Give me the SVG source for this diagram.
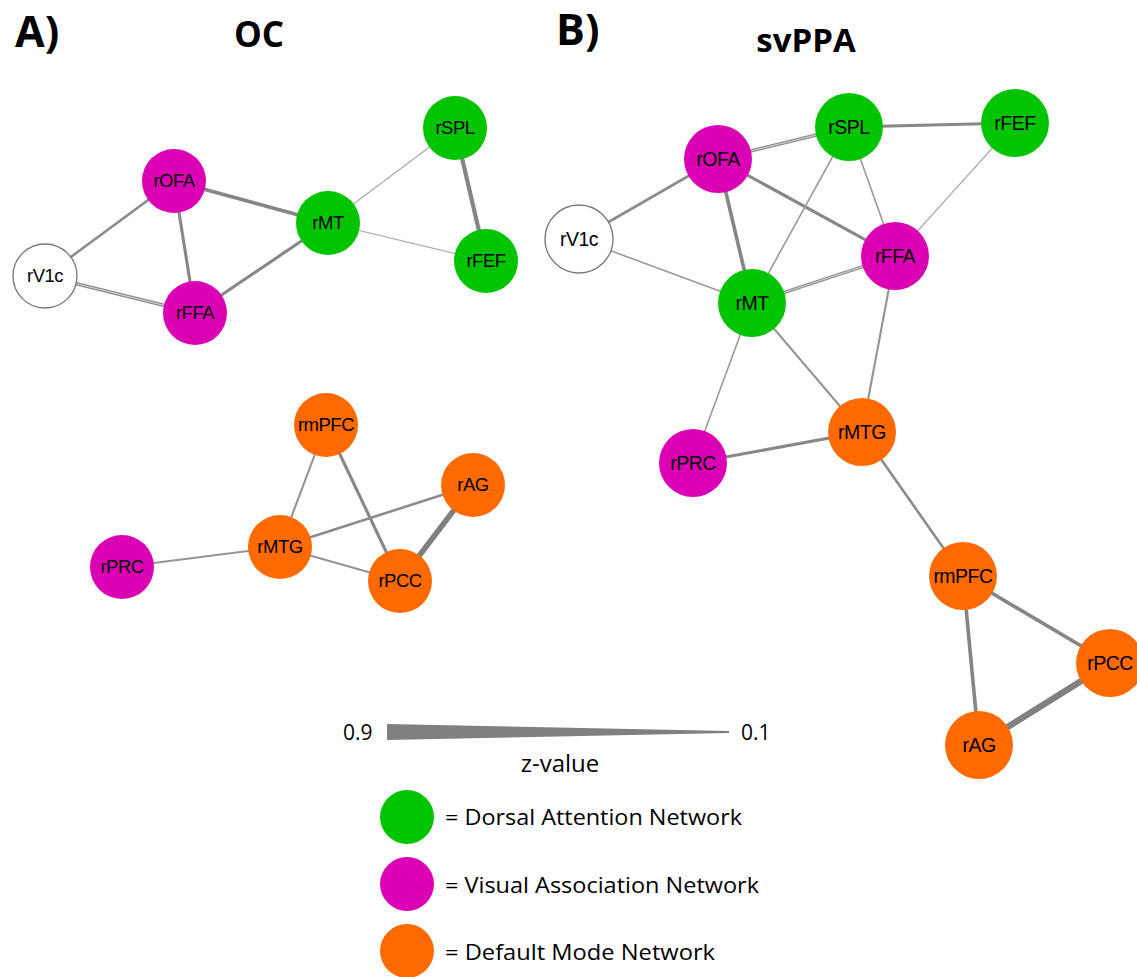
<svg xmlns="http://www.w3.org/2000/svg" width="1137" height="977" viewBox="0 0 1137 977">
<style>
.bg{fill:#ffffff}
.title{font-family:"Open Sans","Liberation Sans",sans-serif;font-weight:bold;fill:#000}
.lbl{font-family:"Liberation Sans",Arial,sans-serif;font-size:18.5px;fill:#000;text-anchor:middle;letter-spacing:-0.5px}
.lblB{font-size:19.5px}
.leg{font-family:"Open Sans","Liberation Sans",sans-serif;fill:#000}
.dan{fill:#00C400}
.van{fill:#DC00B4}
.dmn{fill:#FF6A00}
.none{fill:#ffffff;stroke:#777;stroke-width:1.3}
.e{stroke-linecap:round;fill:none}
.w1{stroke:#aaaaaa;stroke-width:1.2}
.w15{stroke:#9a9a9a;stroke-width:1.6}
.w2{stroke:#949494;stroke-width:2.1}
.w25{stroke:#8c8c8c;stroke-width:2.6}
.w3{stroke:#888888;stroke-width:3.1}
.w35{stroke:#858585;stroke-width:3.6}
.w4{stroke:#858585;stroke-width:4.2}
.w5{stroke:#808080;stroke-width:5.5}
.w6{stroke:#808080;stroke-width:6.3}
.dbl{stroke:#8e8e8e;stroke-width:3.4}
.dblin{stroke:#d6d6d6;stroke-width:1}
</style>
<rect class="bg" x="0" y="0" width="1137" height="977"/>

<g id="titles">
<text class="title" x="15" y="47" font-size="43">A)</text>
<text class="title" x="259" y="47" font-size="35" text-anchor="middle">OC</text>
<text class="title" x="556" y="45" font-size="43">B)</text>
<text class="title" x="806" y="52" font-size="33" text-anchor="middle">svPPA</text>
</g>

<g id="connectors">
<!-- Panel A -->
<line class="e w25" x1="45" y1="276" x2="174" y2="181"/>
<line class="e dbl" x1="45" y1="276" x2="195" y2="313"/>
<line class="e dblin" x1="45" y1="276" x2="195" y2="313"/>
<line class="e w3" x1="174" y1="181" x2="195" y2="313"/>
<line class="e w35" x1="174" y1="181" x2="328" y2="223"/>
<line class="e w3" x1="195" y1="313" x2="328" y2="223"/>
<line class="e w1" x1="328" y1="223" x2="455" y2="128"/>
<line class="e w1" x1="328" y1="223" x2="486" y2="261"/>
<line class="e w4" x1="455" y1="128" x2="486" y2="261"/>
<line class="e w2" x1="122" y1="567" x2="280" y2="547"/>
<line class="e w2" x1="280" y1="547" x2="326" y2="425"/>
<line class="e w3" x1="326" y1="425" x2="400" y2="581"/>
<line class="e w25" x1="280" y1="547" x2="473" y2="485"/>
<line class="e w2" x1="280" y1="547" x2="400" y2="581"/>
<line class="e w5" x1="473" y1="485" x2="400" y2="581"/>
<!-- Panel B -->
<line class="e dbl" x1="718" y1="159" x2="849" y2="127"/>
<line class="e dblin" x1="718" y1="159" x2="849" y2="127"/>
<line class="e w3" x1="849" y1="127" x2="1015" y2="123"/>
<line class="e w25" x1="718" y1="159" x2="579" y2="239"/>
<line class="e w35" x1="718" y1="159" x2="752" y2="303"/>
<line class="e w3" x1="718" y1="159" x2="895" y2="256"/>
<line class="e w15" x1="849" y1="127" x2="752" y2="303"/>
<line class="e w15" x1="849" y1="127" x2="895" y2="256"/>
<line class="e w1" x1="1015" y1="123" x2="895" y2="256"/>
<line class="e w15" x1="579" y1="239" x2="752" y2="303"/>
<line class="e dbl" x1="752" y1="303" x2="895" y2="256"/>
<line class="e dblin" x1="752" y1="303" x2="895" y2="256"/>
<line class="e w15" x1="752" y1="303" x2="693" y2="463"/>
<line class="e w2" x1="752" y1="303" x2="862" y2="432"/>
<line class="e w2" x1="895" y1="256" x2="862" y2="432"/>
<line class="e w3" x1="693" y1="463" x2="862" y2="432"/>
<line class="e w25" x1="862" y1="432" x2="963" y2="576"/>
<line class="e w35" x1="963" y1="576" x2="1110" y2="663"/>
<line class="e w35" x1="963" y1="576" x2="979" y2="745"/>
<line class="e w6" x1="979" y1="745" x2="1110" y2="663"/>
</g>

<!-- Panel A nodes -->
<g id="A_rV1c"><circle class="none" cx="45" cy="276" r="32"/><text class="lbl" x="45" y="282">rV1c</text></g>
<g id="A_rOFA"><circle class="van" cx="174" cy="181" r="32"/><text class="lbl" x="174" y="187">rOFA</text></g>
<g id="A_rFFA"><circle class="van" cx="195" cy="313" r="32"/><text class="lbl" x="195" y="319">rFFA</text></g>
<g id="A_rMT"><circle class="dan" cx="328" cy="223" r="32"/><text class="lbl" x="328" y="229">rMT</text></g>
<g id="A_rSPL"><circle class="dan" cx="455" cy="128" r="32"/><text class="lbl" x="455" y="134">rSPL</text></g>
<g id="A_rFEF"><circle class="dan" cx="486" cy="261" r="32"/><text class="lbl" x="486" y="267">rFEF</text></g>
<g id="A_rmPFC"><circle class="dmn" cx="326" cy="425" r="32"/><text class="lbl" x="326" y="431">rmPFC</text></g>
<g id="A_rAG"><circle class="dmn" cx="473" cy="485" r="32"/><text class="lbl" x="473" y="491">rAG</text></g>
<g id="A_rPCC"><circle class="dmn" cx="400" cy="581" r="32"/><text class="lbl" x="400" y="587">rPCC</text></g>
<g id="A_rMTG"><circle class="dmn" cx="280" cy="547" r="32"/><text class="lbl" x="280" y="553">rMTG</text></g>
<g id="A_rPRC"><circle class="van" cx="122" cy="567" r="32"/><text class="lbl" x="122" y="573">rPRC</text></g>

<!-- Panel B nodes -->
<g id="B_rV1c"><circle class="none" cx="579" cy="239" r="34"/><text class="lbl lblB" x="579" y="246">rV1c</text></g>
<g id="B_rOFA"><circle class="van" cx="718" cy="159" r="34"/><text class="lbl lblB" x="718" y="166">rOFA</text></g>
<g id="B_rSPL"><circle class="dan" cx="849" cy="127" r="34"/><text class="lbl lblB" x="849" y="134">rSPL</text></g>
<g id="B_rFEF"><circle class="dan" cx="1015" cy="123" r="34"/><text class="lbl lblB" x="1015" y="130">rFEF</text></g>
<g id="B_rFFA"><circle class="van" cx="895" cy="256" r="34"/><text class="lbl lblB" x="895" y="263">rFFA</text></g>
<g id="B_rMT"><circle class="dan" cx="752" cy="303" r="34"/><text class="lbl lblB" x="752" y="310">rMT</text></g>
<g id="B_rMTG"><circle class="dmn" cx="862" cy="432" r="34"/><text class="lbl lblB" x="862" y="439">rMTG</text></g>
<g id="B_rPRC"><circle class="van" cx="693" cy="463" r="34"/><text class="lbl lblB" x="693" y="470">rPRC</text></g>
<g id="B_rmPFC"><circle class="dmn" cx="963" cy="576" r="34"/><text class="lbl lblB" x="963" y="583">rmPFC</text></g>
<g id="B_rPCC"><circle class="dmn" cx="1110" cy="663" r="34"/><text class="lbl lblB" x="1110" y="670">rPCC</text></g>
<g id="B_rAG"><circle class="dmn" cx="979" cy="745" r="34"/><text class="lbl lblB" x="979" y="752">rAG</text></g>

<g id="legend">
<text class="leg" x="343" y="740" font-size="21">0.9</text>
<polygon points="387,724 729,731 729,733 387,740" fill="#808080"/>
<text class="leg" x="741" y="740" font-size="21">0.1</text>
<text class="leg" x="560" y="772" font-size="24" text-anchor="middle">z-value</text>
<circle class="dan" cx="407" cy="817" r="27"/>
<text class="leg" x="445" y="825" font-size="22" textLength="297" lengthAdjust="spacingAndGlyphs">= Dorsal Attention Network</text>
<circle class="van" cx="407" cy="884" r="27"/>
<text class="leg" x="445" y="893" font-size="22" textLength="314" lengthAdjust="spacingAndGlyphs">= Visual Association Network</text>
<circle class="dmn" cx="407" cy="951" r="27"/>
<text class="leg" x="445" y="960" font-size="22" textLength="270" lengthAdjust="spacingAndGlyphs">= Default Mode Network</text>
</g>
</svg>
